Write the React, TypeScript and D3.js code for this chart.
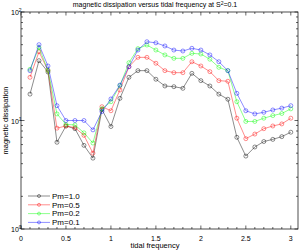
import * as d3 from "d3";
import { useEffect, useRef } from "react";

// tidal frequency samples
const freqs = [0.1, 0.2, 0.3, 0.4, 0.5, 0.6, 0.7, 0.8, 0.9, 1.0, 1.1, 1.2, 1.3, 1.4, 1.5, 1.6, 1.7, 1.8, 1.9, 2.0, 2.1, 2.2, 2.3, 2.4, 2.5, 2.6, 2.7, 2.8, 2.9, 3.0];

const pm10 = [17.5, 35.6, 28, 6.3, 8.9, 8.4, 5.9, 4.5, 12.6, 8.8, 16, 25, 28.8, 28.8, 24, 20.8, 20.5, 19.8, 27.2, 23.3, 20.8, 17.5, 15.7, 7.0, 4.7, 5.7, 6.4, 6.7, 7.1, 7.8];
const pm05 = [25, 43, 29, 8.5, 8.9, 8.6, 7.3, 5.0, 13.4, 12.3, 19.1, 31.3, 38.2, 38.2, 33.7, 28.8, 27.6, 27.6, 34.8, 31.8, 28.2, 23.3, 23, 10.5, 6.8, 7.5, 8.4, 8.9, 9.3, 10.5];
const pm02 = [29.6, 47, 29, 11.5, 9.2, 9.1, 7.7, 6.2, 12.8, 14.9, 21, 34.1, 46, 49.6, 44.6, 40.2, 37.4, 37.4, 41.6, 41, 36.7, 30.9, 28.8, 14.9, 9.8, 9.8, 10.5, 11.1, 11.6, 12.8];
const pm01 = [28.8, 50, 31.8, 13.7, 10, 10, 10, 8.2, 12.1, 15.8, 21.2, 31.3, 44.6, 53.2, 52, 48.6, 44.6, 43.7, 46.3, 44.6, 40.2, 34.8, 28.8, 17.8, 12.3, 11.5, 11.9, 12.5, 13, 13.7];

const seriesNames = ["Pm=1.0", "Pm=0.5", "Pm=0.2", "Pm=0.1"];
const seriesColors = ["#000000", "#ff0000", "#00ff00", "#0000ff"];
const xTickLabels = ["0", "0.5", "1", "1.5", "2", "2.5", "3"];

const W = 301;
const H = 250;
const FONT = "'Liberation Sans', Arial, sans-serif";

export default function App() {
  const ref = useRef<SVGSVGElement>(null);

  useEffect(() => {
    const svg = d3.select(ref.current);
    svg.selectAll("*").remove();

    const left = 21, right = 298, top = 12, bottom = 229;
    const x = d3.scaleLinear().domain([0, 3.08]).range([left, right]);
    const y = d3.scaleLog().domain([1, 100]).range([bottom, top]);

    const g = svg.append("g");

    // frame
    g.append("rect")
      .attr("x", left).attr("y", top)
      .attr("width", right - left).attr("height", bottom - top)
      .attr("fill", "none").attr("stroke", "#000").attr("stroke-width", 0.7);

    // x ticks (inward, top and bottom)
    const minorX = d3.range(0, 31).map((i) => i / 10);
    minorX.forEach((v, i) => {
      const len = i % 5 === 0 ? 3.5 : 2;
      g.append("line").attr("x1", x(v)).attr("x2", x(v)).attr("y1", bottom).attr("y2", bottom - len)
        .attr("stroke", "#000").attr("stroke-width", 0.6);
      g.append("line").attr("x1", x(v)).attr("x2", x(v)).attr("y1", top).attr("y2", top + len)
        .attr("stroke", "#000").attr("stroke-width", 0.6);
    });
    xTickLabels.forEach((t, i) => {
      g.append("text").attr("x", x(i * 0.5)).attr("y", 241)
        .attr("text-anchor", "middle").attr("font-size", 7).attr("font-family", FONT).text(t);
    });

    // y ticks (log)
    const yTicks: number[] = [];
    [1, 10].forEach((d) => { for (let k = 1; k < 10; k++) yTicks.push(d * k); });
    yTicks.push(100);
    yTicks.forEach((v) => {
      const major = Math.abs(Math.log10(v) % 1) < 1e-9;
      const len = major ? 3.5 : 2;
      g.append("line").attr("x1", left).attr("x2", left + len).attr("y1", y(v)).attr("y2", y(v))
        .attr("stroke", "#000").attr("stroke-width", 0.6);
      g.append("line").attr("x1", right).attr("x2", right - len).attr("y1", y(v)).attr("y2", y(v))
        .attr("stroke", "#000").attr("stroke-width", 0.6);
    });
    [0, 1, 2].forEach((p) => {
      const t = g.append("text").attr("x", 11).attr("y", y(Math.pow(10, p)) + 3)
        .attr("font-size", 7).attr("font-family", FONT);
      t.append("tspan").text("10");
      t.append("tspan").attr("dy", -3).attr("font-size", 5).text(String(p));
    });

    // series
    const all = [pm10, pm05, pm02, pm01];
    const line = d3.line<number>().x((_, i) => x(freqs[i])).y((d) => y(d));
    all.forEach((vals, si) => {
      const c = seriesColors[si];
      g.append("path").attr("d", line(vals)).attr("fill", "none")
        .attr("stroke", c).attr("stroke-width", 0.6).attr("stroke-opacity", 0.75);
      g.selectAll(null).data(vals).enter().append("circle")
        .attr("cx", (_, i) => x(freqs[i])).attr("cy", (d) => y(d)).attr("r", 2)
        .attr("fill", "none").attr("stroke", c).attr("stroke-width", 0.6).attr("stroke-opacity", 0.75);
    });

    // legend
    seriesNames.forEach((name, i) => {
      const ly = 196 + i * 8.8;
      const c = seriesColors[i];
      g.append("line").attr("x1", 28).attr("x2", 50).attr("y1", ly).attr("y2", ly)
        .attr("stroke", c).attr("stroke-width", 0.6).attr("stroke-opacity", 0.75);
      g.append("circle").attr("cx", 39).attr("cy", ly).attr("r", 1.5)
        .attr("fill", "none").attr("stroke", c).attr("stroke-width", 0.6).attr("stroke-opacity", 0.75);
      g.append("text").attr("x", 52).attr("y", ly + 2.8).attr("font-size", 8).attr("font-family", FONT).text(name);
    });

    // title
    const title = g.append("text").attr("x", 155).attr("y", 7).attr("text-anchor", "middle")
      .attr("font-size", 7).attr("font-family", FONT);
    title.append("tspan").text("magnetic dissipation versus tidal frequency at S");
    title.append("tspan").attr("dy", -2.5).attr("font-size", 5).text("2");
    title.append("tspan").attr("dy", 2.5).text("=0.1");

    // axis labels
    g.append("text").attr("x", 155).attr("y", 248).attr("text-anchor", "middle")
      .attr("font-size", 7.5).attr("font-family", FONT).text("tidal frequency");
    g.append("text").attr("transform", `translate(8,${(top + bottom) / 2}) rotate(-90)`)
      .attr("text-anchor", "middle").attr("font-size", 7.5).attr("font-family", FONT).text("magnetic dissipation");
  }, []);

  return (
    <svg ref={ref} width={W} height={H}
      style={{ position: "absolute", left: 0, top: 0, background: "#fff" }} />
  );
}
